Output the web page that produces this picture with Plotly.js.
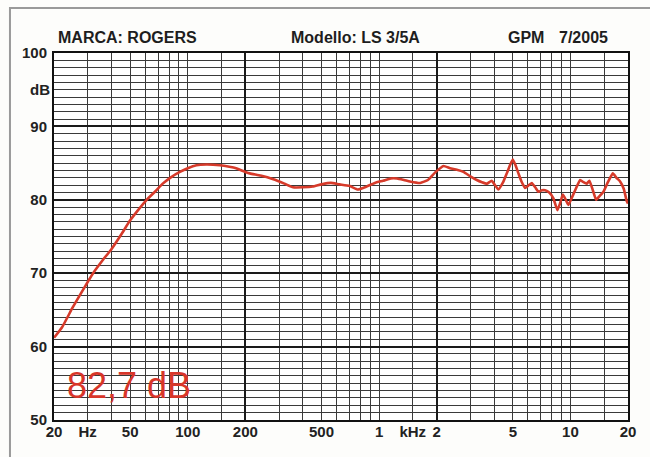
<!DOCTYPE html>
<html>
<head>
<meta charset="utf-8">
<script src="https://cdn.plot.ly/plotly-3.0.1.min.js"></script>
<style>html,body{margin:0;padding:0;background:#fdfdfb;}#chart{width:650px;height:457px;}</style>
</head>
<body>
<div id="chart"></div>
<script>
// Frequency response data
const freqHz = [20, 22, 25, 28, 30, 32, 36, 40, 45, 50,
  55, 61, 68, 74, 82, 91, 100, 111, 125, 147,
  165, 179, 200, 211, 240, 280, 320, 355, 400, 450,
  500, 560, 620, 700, 775, 860, 950, 1050, 1150, 1240,
  1350, 1450, 1640, 1800, 1960, 2170, 2350, 2550, 2760, 3000,
  3240, 3450, 3660, 3880, 4200, 4450, 4650, 4850, 5000, 5150,
  5350, 5550, 5800, 6000, 6280, 6550, 6800, 7100, 7370, 7750,
  8150, 8550, 8850, 9130, 9450, 9760, 10300, 10800, 11240, 11700,
  12180, 12570, 13100, 13630, 14200, 14880, 15700, 16660, 17400, 18190,
  19000, 19710, 20000];
const levelDb = [61.2, 62.6, 65.3, 67.5, 68.8, 70.0, 71.8, 73.3, 75.3, 77.2,
  78.6, 80.0, 81.2, 82.2, 83.1, 83.8, 84.3, 84.7, 84.8, 84.7,
  84.5, 84.3, 83.8, 83.6, 83.3, 82.8, 82.2, 81.7, 81.7, 81.8,
  82.1, 82.3, 82.1, 81.9, 81.4, 81.8, 82.3, 82.6, 82.9, 82.9,
  82.7, 82.5, 82.3, 82.7, 83.7, 84.6, 84.3, 84.1, 83.8, 83.2,
  82.7, 82.4, 82.2, 82.6, 81.4, 82.4, 83.6, 84.8, 85.5, 84.8,
  83.6, 82.5, 81.6, 81.9, 82.3, 81.7, 81.1, 81.3, 81.3, 81.0,
  80.2, 78.6, 79.6, 80.7, 80.0, 79.3, 80.6, 81.8, 82.7, 82.4,
  82.2, 82.6, 81.3, 80.0, 80.5, 81.1, 82.4, 83.6, 83.0, 82.5,
  81.5, 79.8, 79.5];

// Axis ticks
const xTickVals = [20, 30, 50, 100, 200, 500, 1000, 1500, 2000, 5000, 10000, 20000];
const xTickText = ['20', 'Hz', '50', '100', '200', '500', '1', 'kHz', '2', '5', '10', '20'];
const xMinorVals = [40, 60, 70, 80, 90, 150, 300, 400, 600, 700, 800, 900, 3000, 4000, 6000, 7000, 8000, 9000, 15000];
const xMajorGrid = [200, 2000];
const yTickVals = [50, 60, 70, 80, 90, 100];
const yTickText = ['50', '60', '70', '80', '90', '100'];
const yUnitLabel = 'dB';
const yUnitPos = 95;

// Header texts
const brand = 'MARCA: ROGERS';
const model = 'Modello: LS 3/5A';
const lab = 'GPM';
const date = '7/2005';
const sensitivity = '82,7 dB';

const FONT = '"Liberation Sans", Arial, Helvetica, sans-serif';
const GRID = '#3a3a3a';
const xr = [Math.log10(20), Math.log10(20000)];

// carrier for the overlaid grid axis (invisible, same data)
const gridCarrier = {
  x: freqHz, y: levelDb, type: 'scatter', mode: 'lines',
  xaxis: 'x2', yaxis: 'y',
  line: {color: 'rgba(0,0,0,0)', width: 0},
  hoverinfo: 'skip', showlegend: false
};
const trace = {
  x: freqHz, y: levelDb, type: 'scatter', mode: 'lines',
  xaxis: 'x', yaxis: 'y',
  line: {color: '#d63a2a', width: 2.6, shape: 'spline', smoothing: 0.4},
  hoverinfo: 'skip', showlegend: false
};

const headerFont = {family: FONT, size: 16, color: '#1e1e1e', weight: 'bold'};
const tickFont = {family: FONT, size: 15, color: '#222', weight: 'bold'};

const layout = {
  width: 650, height: 457,
  margin: {l: 54, r: 22, t: 53, b: 37},
  paper_bgcolor: '#fdfdfb',
  plot_bgcolor: '#ffffff',
  showlegend: false,
  xaxis: {
    type: 'log', range: xr, fixedrange: true,
    tickmode: 'array', tickvals: xTickVals, ticktext: xTickText,
    ticks: '', ticklabelstandoff: -3,
    tickfont: tickFont,
    showgrid: true, gridcolor: GRID, gridwidth: 1,
    minor: {tickmode: 'array', tickvals: xMinorVals, showgrid: true, gridcolor: GRID, gridwidth: 1, ticks: ''},
    showline: true, mirror: true, linecolor: '#111', linewidth: 2,
    zeroline: false
  },
  xaxis2: {
    type: 'log', range: xr, overlaying: 'x', anchor: 'y', side: 'top', fixedrange: true,
    tickmode: 'array', tickvals: xMajorGrid, showticklabels: false, ticks: '',
    showgrid: true, gridcolor: '#1a1a1a', gridwidth: 2, showline: false, zeroline: false
  },
  yaxis: {
    range: [50, 100], fixedrange: true,
    tickmode: 'array', tickvals: yTickVals, ticktext: yTickText,
    ticks: '', ticklabelstandoff: 2,
    tickfont: tickFont,
    showgrid: true, gridcolor: '#1a1a1a', gridwidth: 2,
    minor: {tickmode: 'linear', tick0: 50, dtick: 1, showgrid: true, gridcolor: GRID, gridwidth: 1, ticks: ''},
    showline: true, mirror: true, linecolor: '#111', linewidth: 2,
    zeroline: false
  },
  annotations: [
    {text: brand, xref: 'paper', yref: 'paper', x: 0.004, y: 1.041, xanchor: 'left', yanchor: 'middle', showarrow: false, font: headerFont},
    {text: model, xref: 'paper', yref: 'paper', x: 0.410, y: 1.041, xanchor: 'left', yanchor: 'middle', showarrow: false, font: headerFont},
    {text: lab, xref: 'paper', yref: 'paper', x: 0.788, y: 1.041, xanchor: 'left', yanchor: 'middle', showarrow: false, font: headerFont},
    {text: date, xref: 'paper', yref: 'paper', x: 0.876, y: 1.041, xanchor: 'left', yanchor: 'middle', showarrow: false, font: headerFont},
    {text: yUnitLabel, xref: 'paper', yref: 'y', x: 0, y: yUnitPos, xanchor: 'right', yanchor: 'middle', xshift: -2, showarrow: false,
     font: tickFont},
    {text: sensitivity, xref: 'paper', yref: 'paper', x: 0.13, y: 0.095, xanchor: 'center', yanchor: 'middle', showarrow: false,
     font: {family: FONT, size: 36, color: '#d8362a'}}
  ],
  shapes: [
    {type: 'rect', xref: 'paper', yref: 'paper', x0: -0.0767, x1: 1.06, y0: -0.14, y1: 1.1226,
     line: {color: '#9a9a9a', width: 2}, fillcolor: 'rgba(0,0,0,0)', layer: 'below'}
  ]
};

Plotly.newPlot('chart', [gridCarrier, trace], layout, {staticPlot: true, displayModeBar: false});
</script>
</body>
</html>
